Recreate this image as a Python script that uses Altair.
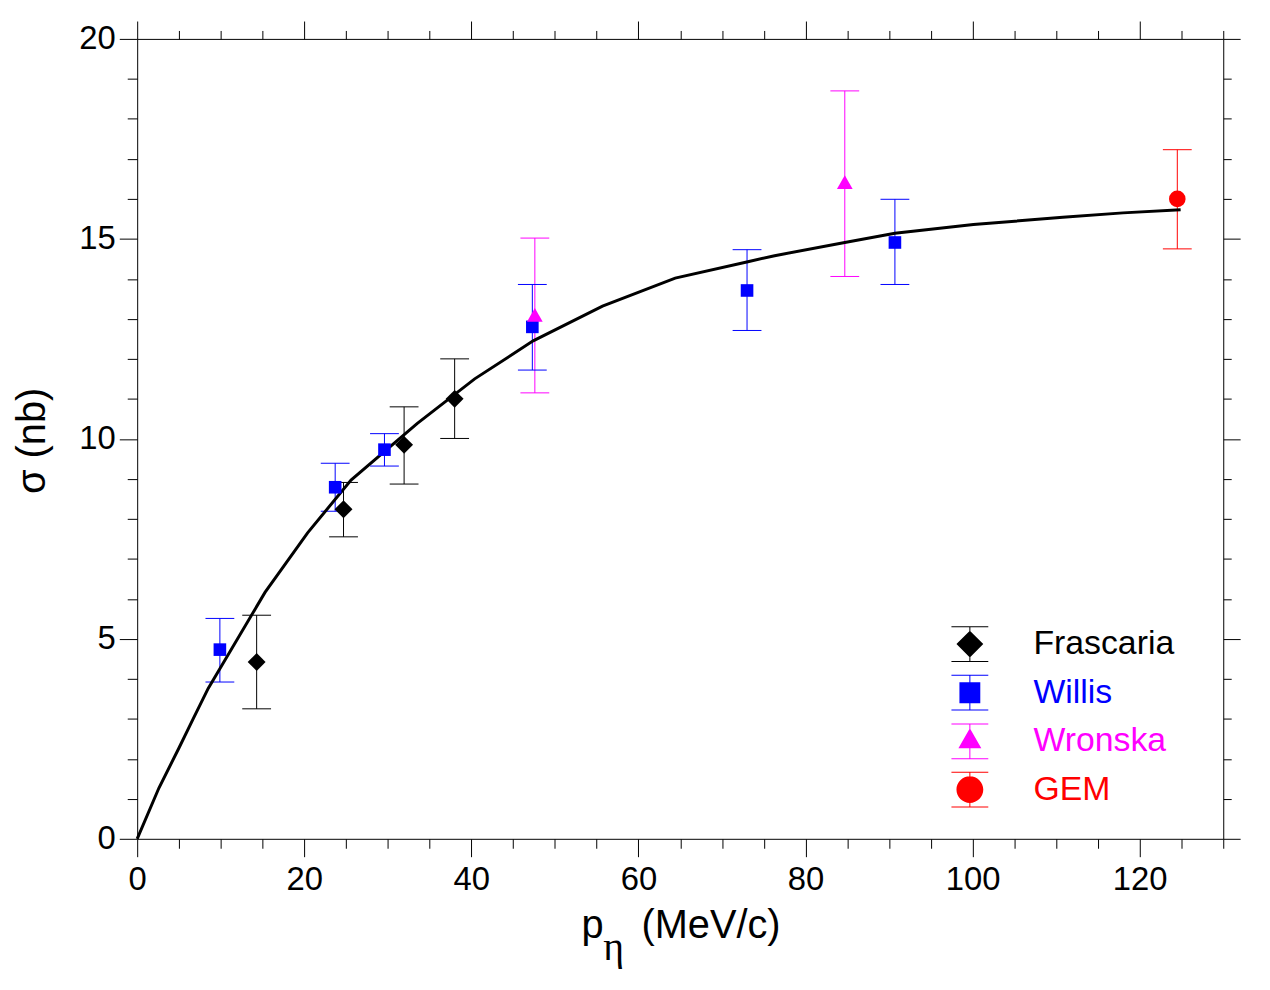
import altair as alt
import pandas as pd

# ---------------- data ----------------
series_names = ["Frascaria", "Willis", "Wronska", "GEM"]
series_colors = ["#000000", "#0000ff", "#ff00ff", "#ff0000"]

fr_p = [14.3, 24.7, 31.95, 38.0]
fr_sigma = [4.42, 8.24, 9.85, 11.0]
fr_lo = [3.25, 7.55, 8.87, 10.01]
fr_hi = [5.59, 8.91, 10.80, 12.0]

wi_p = [9.9, 23.7, 29.6, 47.3, 73.0, 90.7]
wi_sigma = [4.73, 8.79, 9.73, 12.80, 13.71, 14.91]
wi_lo = [3.92, 8.19, 9.32, 11.72, 12.71, 13.86]
wi_hi = [5.51, 9.39, 10.13, 13.86, 14.73, 15.99]

wr_p = [47.6, 84.7]
wr_sigma = [13.1, 16.42]
wr_lo = [11.15, 14.06]
wr_hi = [15.02, 18.70]

gem_p = [124.5]
gem_sigma = [16.0]
gem_lo = [14.75]
gem_hi = [17.23]

curve_p = [0, 2.6, 5.0, 6.7, 8.5, 15.3, 20.4, 25.6, 33.5, 40.4, 47.4, 55.7,
           64.4, 73.1, 76.3, 84.7, 90.7, 100.1, 110.8, 118.0, 124.9]
curve_sigma = [0, 1.27, 2.27, 3.0, 3.76, 6.16, 7.65, 8.97, 10.38, 11.5, 12.45,
               13.32, 14.02, 14.43, 14.58, 14.91, 15.14, 15.36, 15.54, 15.65, 15.73]

x_major = [0, 20, 40, 60, 80, 100, 120]
x_minor = [5, 10, 15, 25, 30, 35, 45, 50, 55, 65, 70, 75, 85, 90, 95, 105, 110, 115, 125, 130]
y_major = [0, 5, 10, 15, 20]
y_minor = [1, 2, 3, 4, 6, 7, 8, 9, 11, 12, 13, 14, 16, 17, 18, 19]

# ---------------- tables ----------------
rows = []
for name, ps, ss, los, his in [
    ("Frascaria", fr_p, fr_sigma, fr_lo, fr_hi),
    ("Willis", wi_p, wi_sigma, wi_lo, wi_hi),
    ("Wronska", wr_p, wr_sigma, wr_lo, wr_hi),
    ("GEM", gem_p, gem_sigma, gem_lo, gem_hi),
]:
    for p, s, lo, hi in zip(ps, ss, los, his):
        rows.append({"p": p, "sigma": s, "lo": lo, "hi": hi, "series": name})
df = pd.DataFrame(rows)
curve_df = pd.DataFrame({"p": curve_p, "sigma": curve_sigma})

# ---------------- styling ----------------
FONT = "Liberation Sans"
xs = alt.Scale(domain=[0, 130], nice=False, zero=False)
ys = alt.Scale(domain=[0, 20], nice=False, zero=False)
stroke_scale = alt.Scale(domain=series_names, range=series_colors)


def axis(orient, values, tick_size, labels=False, domain=False, **kw):
    return alt.Axis(orient=orient, values=values, tickSize=tick_size, labels=labels,
                    domain=domain, grid=False, ticks=True, tickColor="black",
                    tickWidth=1, domainColor="black", domainWidth=1,
                    labelFlush=False, labelFont=FONT, labelFontSize=33,
                    labelColor="black", **kw)


title_kw = dict(titleFontWeight="normal", titleAlign="center",
                titleBaseline="alphabetic", titleColor="black", titleFontSize=40)

bottom_major = axis("bottom", x_major, 18, labels=True, domain=True, labelPadding=7,
                    title="p", titleFont=FONT, titleX=457.8, titleY=99.5, **title_kw)
bottom_minor = axis("bottom", x_minor, 9.5,
                    title="\u03b7", titleFont="Liberation Serif", titleX=479, titleY=121.5,
                    **title_kw)
top_major = axis("top", x_major, 18, domain=True,
                 title="(MeV/c)", titleFont=FONT, titleX=577, titleY=904.5, **title_kw)
top_minor = axis("top", x_minor, 8.5, title=None)
left_major = axis("left", y_major, 18, labels=True, domain=True, labelPadding=4,
                  title="\u03c3 (nb)", titleFont=FONT, titleX=-93, titleY=404,
                  titleAngle=270, **title_kw)
left_minor = axis("left", y_minor, 10, title=None)
right_major = axis("right", y_major, 17, domain=True, title=None)
right_minor = axis("right", y_minor, 8, title=None)

# legend glyphs: marker with its error bar, unit = half symbol box (18 px)
bar = "M-0.028,-1L0.028,-1L0.028,1L-0.028,1Z"
caps = "M-1.03,-1L1.03,-1L1.03,-0.944L-1.03,-0.944ZM-1.03,0.944L1.03,0.944L1.03,1L-1.03,1Z"
legend_paths = [
    bar + caps + "M-0.75,0L0,-0.75L0.75,0L0,0.75Z",
    bar + caps + "M-0.583,-0.583L0.583,-0.583L0.583,0.583L-0.583,0.583Z",
    bar + caps + "M0,-0.73L0.64,0.38L-0.64,0.38Z",
    bar + caps + "M-0.75,0A0.75,0.75,0,1,1,0.75,0A0.75,0.75,0,1,1,-0.75,0Z",
]
legend_tops = [591, 640, 689, 737.5]

# ---------------- layers ----------------
base = alt.Chart(df)

err_rules = base.mark_rule(strokeWidth=1).encode(
    x=alt.X("p:Q", scale=xs, axis=bottom_minor),
    y=alt.Y("lo:Q", scale=ys, axis=left_minor),
    y2="hi:Q",
    stroke=alt.Stroke("series:N", scale=stroke_scale, legend=None),
)
caps_lo = base.mark_rule(strokeWidth=1, xOffset=-14.5, x2Offset=14.5).encode(
    x=alt.X("p:Q", scale=xs, axis=top_major),
    x2="p:Q",
    y=alt.Y("lo:Q", scale=ys, axis=right_major),
    stroke=alt.Stroke("series:N", scale=stroke_scale, legend=None),
)
caps_hi = base.mark_rule(strokeWidth=1, xOffset=-14.5, x2Offset=14.5).encode(
    x=alt.X("p:Q", scale=xs, axis=top_minor),
    x2="p:Q",
    y=alt.Y("hi:Q", scale=ys, axis=right_minor),
    stroke=alt.Stroke("series:N", scale=stroke_scale, legend=None),
)
curve = alt.Chart(curve_df).mark_line(color="black", strokeWidth=3).encode(
    x=alt.X("p:Q", scale=xs, axis=bottom_major),
    y=alt.Y("sigma:Q", scale=ys, axis=left_major),
)

marker_shapes = ["diamond", "square", "triangle-up", "circle"]
marker_sizes = [324, 161, 250, 279]
point_layers = []
for name, col, shp, sz in zip(series_names, series_colors, marker_shapes, marker_sizes):
    point_layers.append(
        base.transform_filter(alt.datum.series == name)
        .mark_point(shape=shp, size=sz, filled=True, opacity=1, color=col, strokeWidth=0)
        .encode(x=alt.X("p:Q", scale=xs, axis=None), y=alt.Y("sigma:Q", scale=ys, axis=None))
    )

# one single-entry legend per series (independent colour scales -> own label colour)
legend_layers = []
for i, (name, col) in enumerate(zip(series_names, series_colors)):
    lg = alt.Legend(orient="none", legendX=820, legendY=legend_tops[i], direction="vertical",
                    title=None, symbolType=legend_paths[i], symbolSize=1296,
                    symbolStrokeWidth=0, symbolOpacity=1,
                    labelFont=FONT, labelFontSize=34, labelOffset=46, labelColor=col,
                    padding=0, labelLimit=400)
    layer = (
        base.transform_filter("false")
        .mark_point(filled=True, opacity=1, shape=legend_paths[i], size=1296)
        .encode(
            x=alt.X("p:Q", scale=xs, axis=None),
            y=alt.Y("sigma:Q", scale=ys, axis=None),
            color=alt.Color("series:N", scale=alt.Scale(domain=[name], range=[col]), legend=lg),
        )
    )
    legend_layers.append(layer)

chart = (
    alt.layer(err_rules, caps_lo, caps_hi, curve, *point_layers, *legend_layers)
    .resolve_axis(x="independent", y="independent")
    .resolve_scale(color="independent")
    .resolve_legend(color="independent")
    .properties(width=1093, height=805,
                autosize=alt.AutoSizeParams(type="none"),
                padding={"left": 130, "top": 28, "right": 39, "bottom": 140},
                background="white")
    .configure_view(stroke="transparent")
)

chart.save("out.html", embed_options={"renderer": "svg", "actions": False})
